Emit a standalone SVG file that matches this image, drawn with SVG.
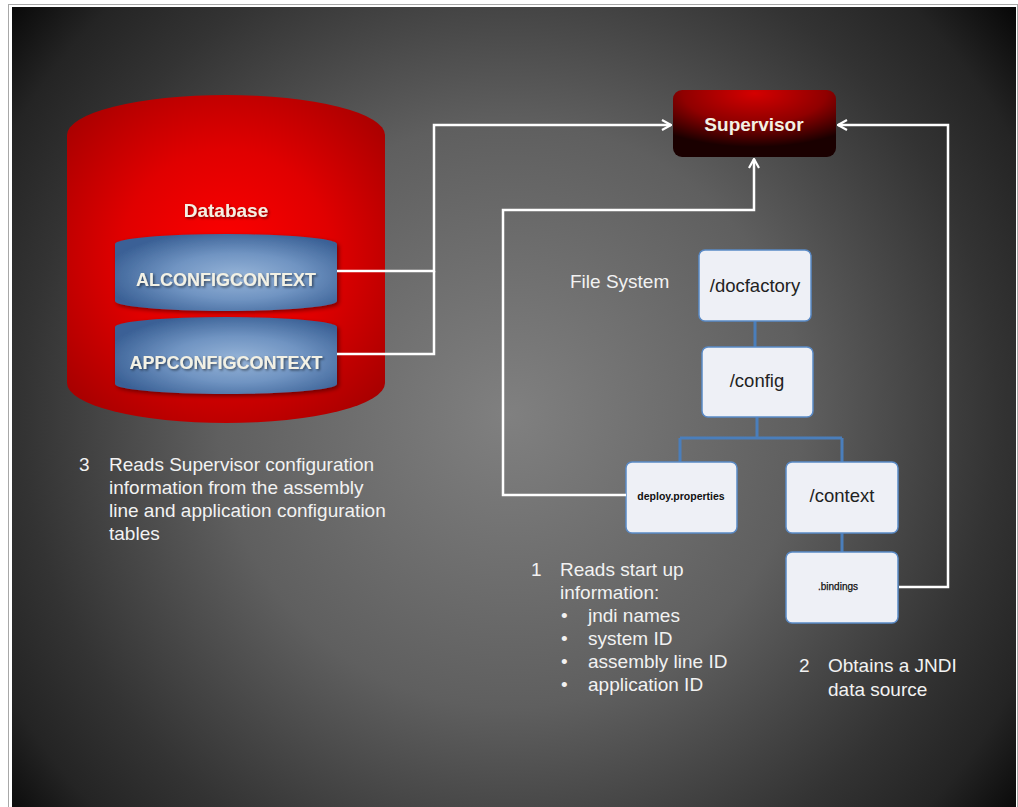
<svg xmlns="http://www.w3.org/2000/svg" width="1018" height="807" viewBox="0 0 1018 807">
<defs>
<radialGradient id="bg" gradientUnits="userSpaceOnUse" cx="510" cy="415" r="650">
<stop offset="0" stop-color="#808080"/>
<stop offset="0.45" stop-color="#5f5f5f"/>
<stop offset="0.62" stop-color="#464646"/>
<stop offset="0.75" stop-color="#333"/>
<stop offset="0.88" stop-color="#242424"/>
<stop offset="1" stop-color="#070707"/>
</radialGradient>
<radialGradient id="dbRed" gradientUnits="userSpaceOnUse" cx="226" cy="255" r="210">
<stop offset="0" stop-color="#ff0000"/>
<stop offset="0.5" stop-color="#e00000"/>
<stop offset="1" stop-color="#a60000"/>
</radialGradient>
<radialGradient id="tbl" cx="0.55" cy="0.55" r="0.6">
<stop offset="0" stop-color="#96b4d8"/>
<stop offset="0.5" stop-color="#7094c2"/>
<stop offset="1" stop-color="#3b6196"/>
</radialGradient>
<radialGradient id="sup" cx="0.5" cy="0.05" r="0.8">
<stop offset="0" stop-color="#d40000"/>
<stop offset="0.55" stop-color="#900000"/>
<stop offset="1" stop-color="#1a0000"/>
</radialGradient>
<filter id="ts" x="-10%" y="-30%" width="120%" height="160%">
<feDropShadow dx="1.5" dy="1.5" stdDeviation="1" flood-color="#000" flood-opacity="0.5"/>
</filter>
<filter id="bs" x="-10%" y="-10%" width="125%" height="130%">
<feDropShadow dx="2" dy="2" stdDeviation="2" flood-color="#000" flood-opacity="0.45"/>
</filter>
<marker id="arr" viewBox="0 0 12 12" refX="11" refY="6" markerWidth="12" markerHeight="12" markerUnits="userSpaceOnUse" orient="auto">
<path d="M2,1 L11,6 L2,11" fill="none" stroke="#fff" stroke-width="2.2"/>
</marker>
<style>
.lbl{font-family:"Liberation Sans",Arial,sans-serif;font-size:19px;fill:#f2f2f2}
.hd{font-family:"Liberation Sans",Arial,sans-serif;font-weight:bold;fill:#f3f1e4}
.fs{fill:#eef0f6;stroke:#5a8ac6;stroke-width:1.5}
.fst{font-family:"Liberation Sans",Arial,sans-serif;font-size:18.5px;fill:#222;text-anchor:middle}
.sm{font-family:"Liberation Sans",Arial,sans-serif;fill:#111;text-anchor:middle}
.tree{fill:none;stroke:#4a7ebb;stroke-width:3}
.wire{fill:none;stroke:#fff;stroke-width:2.5}
</style>
</defs>
<rect x="0" y="0" width="1018" height="807" fill="#fff"/>
<rect x="8.5" y="4.5" width="1009" height="806" fill="none" stroke="#a8a8a8" stroke-width="1"/>
<rect x="12" y="7" width="1004" height="800" fill="url(#bg)"/>

<g id="database">
<path d="M67,135 A159,40 0 0 1 385,135 V383 A159,40 0 0 1 67,383 Z" fill="url(#dbRed)"/>
<text class="hd" x="226" y="217" font-size="19" text-anchor="middle" filter="url(#ts)">Database</text>
</g>
<g id="alconfigcontext">
<path d="M115,244 A111,10 0 0 1 337,244 V301 A111,10 0 0 1 115,301 Z" fill="url(#tbl)" filter="url(#bs)"/>
<text class="hd" x="226" y="286" font-size="18" text-anchor="middle" filter="url(#ts)">ALCONFIGCONTEXT</text>
</g>
<g id="appconfigcontext">
<path d="M115,327 A111,10 0 0 1 337,327 V384 A111,10 0 0 1 115,384 Z" fill="url(#tbl)" filter="url(#bs)"/>
<text class="hd" x="226" y="369" font-size="18" text-anchor="middle" filter="url(#ts)">APPCONFIGCONTEXT</text>
</g>

<g id="supervisor">
<rect x="673" y="90" width="163" height="67" rx="9" fill="url(#sup)"/>
<text class="hd" x="754" y="131" font-size="19" text-anchor="middle">Supervisor</text>
</g>

<g id="tree-connectors">
<path class="tree" d="M755,321 V347"/>
<path class="tree" d="M757,417 V438 M680,438 H842 M680,438 V462 M842,438 V462"/>
<path class="tree" d="M842,533 V552"/>
</g>

<g id="docfactory">
<rect class="fs" x="699" y="250" width="112" height="71" rx="6"/>
<text class="fst" x="755" y="292">/docfactory</text>
</g>
<g id="config">
<rect class="fs" x="702" y="347" width="111" height="70" rx="6"/>
<text class="fst" x="757" y="387">/config</text>
</g>
<g id="deploy-properties">
<rect class="fs" x="626" y="462" width="111" height="71" rx="6"/>
<text class="sm" x="681" y="500" font-size="10.5" font-weight="bold">deploy.properties</text>
</g>
<g id="context">
<rect class="fs" x="786" y="462" width="112" height="71" rx="6"/>
<text class="fst" x="842" y="502">/context</text>
</g>
<g id="bindings">
<rect class="fs" x="786" y="552" width="112" height="71" rx="6"/>
<text class="sm" x="838" y="590" font-size="10" stroke="#111" stroke-width="0.25">.bindings</text>
</g>

<g id="connectors">
<path class="wire" d="M337,271 H434 V125 H671" marker-end="url(#arr)"/>
<path class="wire" d="M337,354 H434 V271"/>
<path class="wire" d="M626,495 H503 V210 H754 V159" marker-end="url(#arr)"/>
<path class="wire" d="M899,587 H948 V125 H838" marker-end="url(#arr)"/>
</g>

<g id="labels">
<text class="lbl" x="570" y="288">File System</text>
<text class="lbl" x="79" y="471">3</text>
<text class="lbl" x="109" y="471">Reads Supervisor configuration</text>
<text class="lbl" x="109" y="494">information from the assembly</text>
<text class="lbl" x="109" y="517">line and application configuration</text>
<text class="lbl" x="109" y="540">tables</text>
<text class="lbl" x="531" y="576">1</text>
<text class="lbl" x="560" y="576">Reads start up</text>
<text class="lbl" x="560" y="599">information:</text>
<text class="lbl" x="561" y="622">•</text>
<text class="lbl" x="588" y="622">jndi names</text>
<text class="lbl" x="561" y="645">•</text>
<text class="lbl" x="588" y="645">system ID</text>
<text class="lbl" x="561" y="668">•</text>
<text class="lbl" x="588" y="668">assembly line ID</text>
<text class="lbl" x="561" y="691">•</text>
<text class="lbl" x="588" y="691">application ID</text>
<text class="lbl" x="799" y="672">2</text>
<text class="lbl" x="828" y="672">Obtains a JNDI</text>
<text class="lbl" x="828" y="696">data source</text>
</g>
</svg>
